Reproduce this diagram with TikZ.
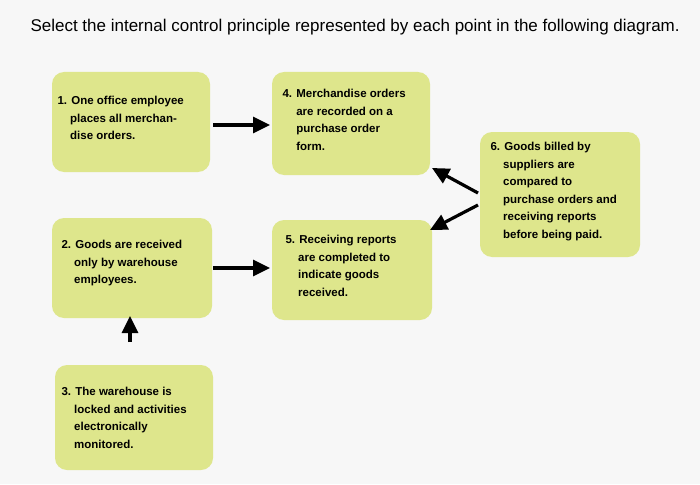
\documentclass[tikz,border=0pt]{standalone}
\usepackage{fontspec}
\setmainfont{Liberation Sans}
\usetikzlibrary{arrows.meta}
\definecolor{boxg}{RGB}{222,230,140}
\tikzset{
 lbl/.style={align=left, font=\bfseries\fontsize{11.5}{17.5}\selectfont, anchor=north west},
 arr/.style={line width=3.2pt, -{Triangle[length=17pt,width=16pt]}}
}
\begin{document}
\begin{tikzpicture}[x=1pt,y=-1pt]
\fill[white!94!gray] (0,0) rectangle (700,484);
\useasboundingbox (0,0) rectangle (700,484);
\node[anchor=west, font=\fontsize{17}{20}\selectfont] at (27,27) {Select the internal control principle represented by each point in the following diagram.};
\fill[boxg, rounded corners=12pt] (52,72) rectangle (210,172);
\fill[boxg, rounded corners=12pt] (272,72) rectangle (430,175);
\fill[boxg, rounded corners=12pt] (480,132) rectangle (640,257);
\fill[boxg, rounded corners=12pt] (52,218) rectangle (212,318);
\fill[boxg, rounded corners=12pt] (272,220) rectangle (432,320);
\fill[boxg, rounded corners=12pt] (55,365) rectangle (213,470);
\node[lbl] (t1) at (54,93) {1. One office employee\\\hspace*{1.1em}places all merchan-\\\hspace*{1.1em}dise orders.};
\node[lbl] (t4) at (279,86) {4. Merchandise orders\\\hspace*{1.2em}are recorded on a\\\hspace*{1.2em}purchase order\\\hspace*{1.2em}form.};
\node[lbl] (t6) at (487,139) {6. Goods billed by\\\hspace*{1.1em}suppliers are\\\hspace*{1.1em}compared to\\\hspace*{1.1em}purchase orders and\\\hspace*{1.1em}receiving reports\\\hspace*{1.1em}before being paid.};
\node[lbl] (t2) at (58,237) {2. Goods are received\\\hspace*{1.1em}only by warehouse\\\hspace*{1.1em}employees.};
\node[lbl] (t5) at (282,232) {5. Receiving reports\\\hspace*{1.1em}are completed to\\\hspace*{1.1em}indicate goods\\\hspace*{1.1em}received.};
\node[lbl] (t3) at (58,384) {3. The warehouse is\\\hspace*{1.1em}locked and activities\\\hspace*{1.1em}electronically\\\hspace*{1.1em}monitored.};
\coordinate (a1) at (213,125); \coordinate (b1) at (270,125);
\coordinate (a2) at (213,268); \coordinate (b2) at (270,268);
\coordinate (a3) at (130,342); \coordinate (b3) at (130,316);
\coordinate (a6) at (478,193); \coordinate (b4) at (432,168);
\coordinate (a7) at (478,205); \coordinate (b5) at (430,230);
\draw[arr] (a1) -- (b1);
\draw[arr] (a2) -- (b2);
\draw[arr] (a3) -- (b3);
\draw[arr] (a6) -- (b4);
\draw[arr] (a7) -- (b5);
\end{tikzpicture}
\end{document}
